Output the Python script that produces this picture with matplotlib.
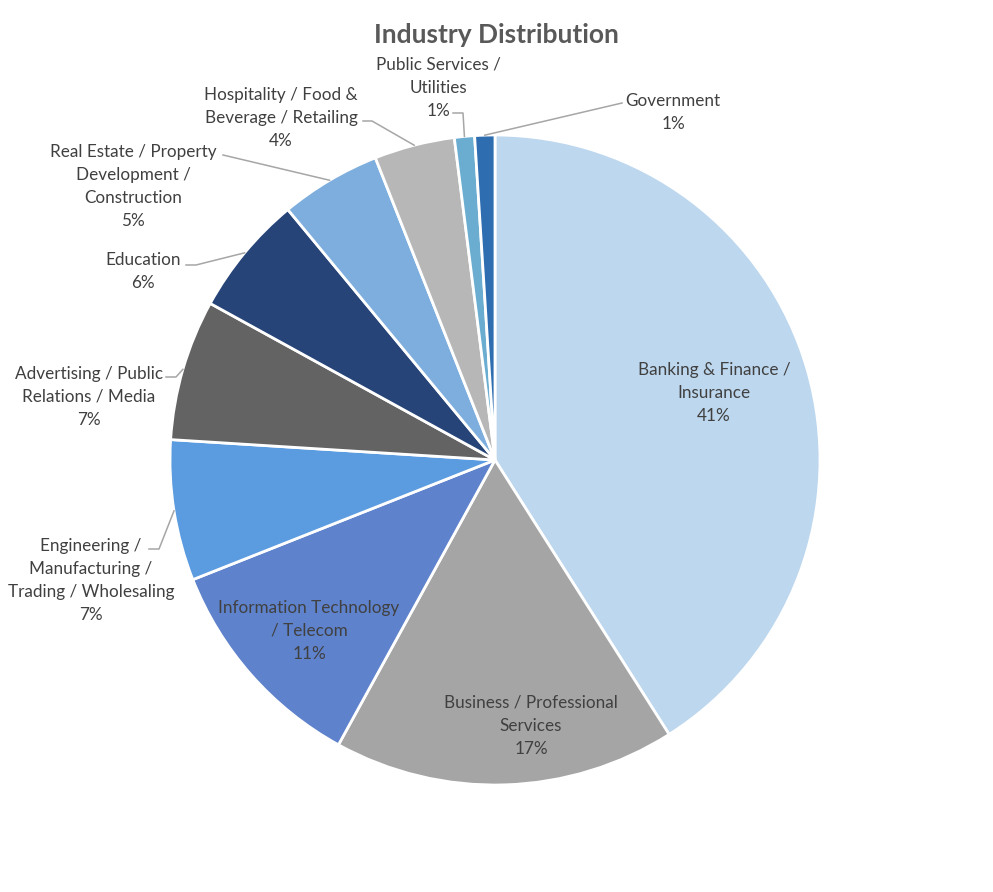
import matplotlib.pyplot as plt
import numpy as np

plt.rcParams['font.family'] = ['Lato', 'DejaVu Sans']

# ---- data ----
categories = [
    "Banking & Finance /\nInsurance",
    "Business / Professional\nServices",
    "Information Technology\n/ Telecom",
    "Engineering /\nManufacturing /\nTrading / Wholesaling",
    "Advertising / Public\nRelations / Media",
    "Education",
    "Real Estate / Property\nDevelopment /\nConstruction",
    "Hospitality / Food &\nBeverage / Retailing",
    "Public Services /\nUtilities",
    "Government",
]
shares = [41, 17, 11, 7, 7, 6, 5, 4, 1, 1]
colors = ["#BDD7EE", "#A5A5A5", "#5E82CB", "#5B9BE0", "#636363",
          "#264478", "#7EAEDE", "#B7B7B7", "#6AADD0", "#2E6DB0"]
title = "Industry Distribution"

# ---- layout (pixel coords, y from top) ----
W, H = 993, 892
CX, CY, R = 495, 460, 325
# label: (center x, top line center y, leader points from label side or None)
layout = [
    (714, 370, None),
    (531, 703, None),
    (309, 608, None),
    (91, 546, [(149, 549), (159, 549)]),
    (89, 374, [(166, 377), (176, 377)]),
    (143, 260, [(186, 265), (196, 265)]),
    (133, 152, [(223, 155)]),
    (281, 95, [(363, 121), (372, 121)]),
    (438, 65, [(453, 113), (463, 113)]),
    (673, 101, [(622, 103)]),
]
line_step = 23

fig = plt.figure(figsize=(W / 100, H / 100), dpi=100)
ax = fig.add_axes([0, 0, 1, 1])

def fy(y):
    return H - y

wedges, _ = ax.pie(shares, colors=colors, startangle=90, counterclock=False,
                   radius=R, center=(CX, fy(CY)),
                   wedgeprops=dict(edgecolor='white', linewidth=2.0))
ax.set_xlim(0, W)
ax.set_ylim(0, H)
ax.set_aspect('equal')
ax.axis('off')

for wdg, cat, val, (lx, ly, leader) in zip(wedges, categories, shares, layout):
    lines = cat.split("\n") + [f"{val}%"]
    for i, ln in enumerate(lines):
        ax.text(lx, fy(ly + i * line_step), ln, ha='center', va='center',
                fontsize=12.3, color='#404040')
    if leader is not None:
        mid = np.deg2rad((wdg.theta1 + wdg.theta2) / 2)
        ex = CX + R * np.cos(mid)
        ey = fy(CY) + R * np.sin(mid)
        xs = [p[0] for p in leader] + [ex]
        ys = [fy(p[1]) for p in leader] + [ey]
        ax.plot(xs, ys, color='#A6A6A6', linewidth=1.1)

ax.text(496, fy(35), title, ha='center', va='center', fontsize=19,
        fontweight='bold', color='#595959')

fig.savefig("out.png", dpi=100, facecolor='white')
